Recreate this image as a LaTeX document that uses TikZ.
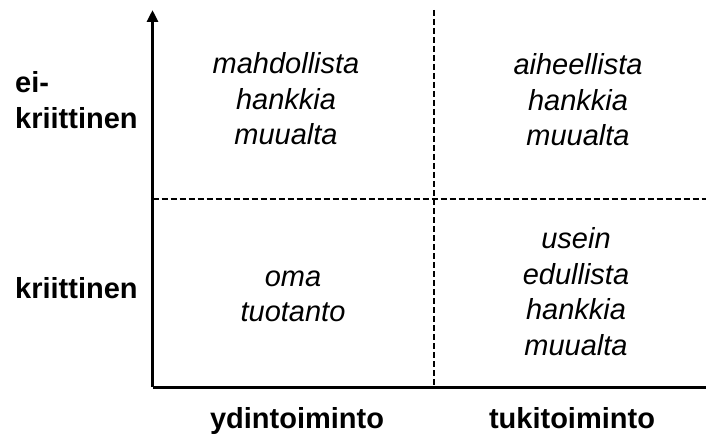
\documentclass[tikz,border=0pt]{standalone}
\usepackage{fontspec}
\setmainfont{Liberation Sans}
\usetikzlibrary{arrows.meta}
\begin{document}
\begin{tikzpicture}[x=1pt,y=1pt,
  axisline/.style={line width=3pt},
  gridline/.style={line width=2pt,dash pattern=on 6pt off 3pt},
  celltext/.style={align=center,anchor=base,inner sep=0pt,font=\itshape\fontsize{29}{35.5}\selectfont},
  sidelabel/.style={align=left,anchor=base west,inner sep=0pt,font=\bfseries\fontsize{29}{37}\selectfont},
  bottomlabel/.style={anchor=base,inner sep=0pt,font=\bfseries\fontsize{29}{35}\selectfont}]
\useasboundingbox (0,0) rectangle (706,437);
\coordinate (O) at (152.5,50);
\coordinate (Ytop) at (152.5,427);
\coordinate (Xend) at (706,50);
\coordinate (Vtop) at (434,427);
\coordinate (Vbot) at (434,50);
\coordinate (Hl) at (152.5,238);
\coordinate (Hr) at (706,238);
\draw[gridline] (Vtop) -- (Vbot);
\draw[gridline] (Hl) -- (Hr);
\draw[axisline,-{Triangle[width=11pt,length=12pt]}] (O) -- (Ytop);
\draw[axisline] (O) -- (Xend);
\node[celltext] (tl) at (286,292) {mahdollista\\hankkia\\muualta};
\node[celltext] (tr) at (578,291) {aiheellista\\hankkia\\muualta};
\node[celltext] (bl) at (293,115.5) {oma\\tuotanto};
\node[celltext] (br) at (576,82) {usein\\edullista\\hankkia\\muualta};
\node[sidelabel] (eik) at (15,308) {ei-\\kriittinen};
\node[sidelabel] (kr) at (15,139) {kriittinen};
\node[bottomlabel] (yd) at (297,9) {ydintoiminto};
\node[bottomlabel] (tu) at (572,9) {tukitoiminto};
\end{tikzpicture}
\end{document}
